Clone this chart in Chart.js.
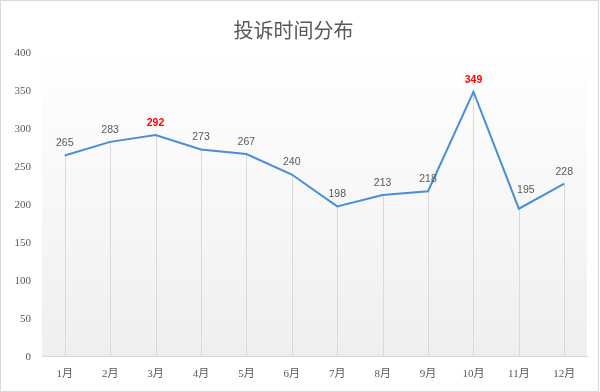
<!DOCTYPE html>
<html><head><meta charset="utf-8">
<script src="https://cdn.jsdelivr.net/npm/chart.js@4/dist/chart.umd.min.js"></script>
<style>html,body{margin:0;padding:0;background:#fff}#wrap{width:600px;height:392px;position:relative}</style>
</head><body><div id="wrap"><canvas id="c"></canvas></div>
<script>
const months = ['1月','2月','3月','4月','5月','6月','7月','8月','9月','10月','11月','12月'];
const complaints = [265,283,292,273,267,240,198,213,218,349,195,228];
const highlightIdx = [2,9];
const yTicks = [0,50,100,150,200,250,300,350,400];

const labelShift = {10:[7,-19]};

const bgPlugin = {
  id:'bg',
  beforeDraw(chart){
    const {ctx, chartArea:a} = chart;
    ctx.save();
    ctx.fillStyle='#fff';
    ctx.fillRect(0,0,chart.width,chart.height);
    const g = ctx.createLinearGradient(0,a.top,0,a.bottom);
    g.addColorStop(0,'#ffffff');
    g.addColorStop(1,'#efefef');
    ctx.fillStyle=g;
    ctx.fillRect(a.left,a.top,a.right-a.left,a.bottom-a.top);
    ctx.strokeStyle='#d9d9d9';
    ctx.lineWidth=1;
    ctx.strokeRect(0.5,0.5,chart.width-2,chart.height-1);
    ctx.restore();
  },
  beforeDatasetsDraw(chart){
    const {ctx} = chart;
    const meta = chart.getDatasetMeta(0);
    const y0 = chart.scales.y.getPixelForValue(0);
    ctx.save();
    ctx.strokeStyle='#d9d9d9';
    ctx.lineWidth=1;
    meta.data.forEach(p=>{
      const x=Math.round(p.x)+0.5;
      ctx.beginPath();ctx.moveTo(x,p.y);ctx.lineTo(x,y0);ctx.stroke();
    });
    ctx.restore();
  },
  afterDatasetsDraw(chart){
    const {ctx} = chart;
    const meta = chart.getDatasetMeta(0);
    ctx.save();
    ctx.textAlign='center';
    ctx.textBaseline='middle';
    meta.data.forEach((p,i)=>{
      const hi = highlightIdx.includes(i);
      const sh = labelShift[i] || [0,-12];
      ctx.font = (hi?'bold ':'')+'10.5px "Liberation Sans", sans-serif';
      ctx.fillStyle = hi ? '#ff0000' : '#595959';
      ctx.fillText(String(complaints[i]), p.x+sh[0], p.y+sh[1]);
    });
    ctx.restore();
  }
};

new Chart(document.getElementById('c'),{
  type:'line',
  data:{labels:months,datasets:[{data:complaints,borderColor:'#4a8fd6',borderWidth:2,pointRadius:0,tension:0,fill:false}]},
  options:{
    responsive:true,maintainAspectRatio:false,animation:false,
    layout:{padding:{left:0,right:13,top:14,bottom:0}},
    plugins:{
      legend:{display:false},tooltip:{enabled:false},
      title:{display:true,text:'投诉时间分布',color:'#595959',font:{family:'"Noto Sans CJK SC", sans-serif',size:20,weight:'normal'},padding:{top:4,bottom:11}}
    },
    scales:{
      x:{offset:true,grid:{display:false,drawTicks:false},border:{display:true,color:'#d9d9d9'},
         ticks:{color:'#595959',padding:11,font:{family:'"Liberation Serif", "Noto Sans CJK SC", serif',size:11}}},
      y:{min:0,max:400,afterBuildTicks(s){s.ticks=yTicks.map(v=>({value:v}));},
         afterFit(s){s.width=42;},
         grid:{display:false,drawTicks:false},border:{display:false},
         ticks:{color:'#595959',padding:11,font:{family:'"Liberation Serif", serif',size:11}}}
    }
  },
  plugins:[bgPlugin]
});
</script></body></html>
